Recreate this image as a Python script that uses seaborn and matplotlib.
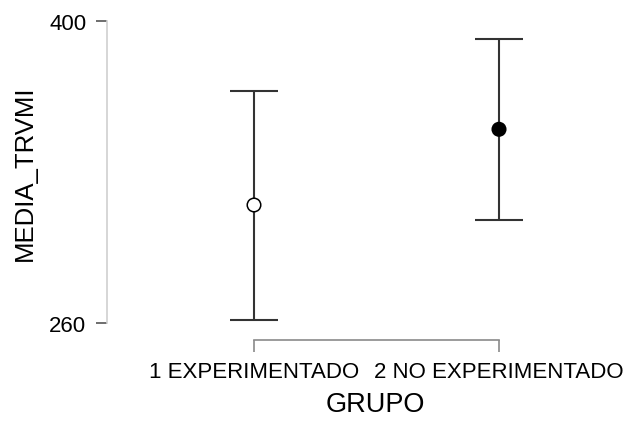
import matplotlib
matplotlib.use("Agg")
import matplotlib.pyplot as plt
import seaborn as sns
import pandas as pd

# Descriptive plot: group means with 95% CI
groups = ["1 EXPERIMENTADO", "2 NO EXPERIMENTADO"]
means = [314.7, 349.8]
ci_lower = [261.5, 307.7]
ci_upper = [367.4, 391.8]
y_ticks = [260, 400]

sns.set_style("white")
plt.rcParams["font.family"] = ["Liberation Sans", "DejaVu Sans"]

df = pd.DataFrame({"GRUPO": groups, "MEDIA_TRVMI": means,
                   "lo": ci_lower, "hi": ci_upper})

W, H = 630, 427
fig = plt.figure(figsize=(W / 100, H / 100), dpi=100)
left_px, top_px, bottom_px = 107, 22, 324
x_lo, x_hi = -0.6, 1.5
unit_px = 245
ax = fig.add_axes([left_px / W, (H - bottom_px) / H,
                   (x_hi - x_lo) * unit_px / W, (bottom_px - top_px) / H])

pos = list(range(len(groups)))
yerr = [[m - l for m, l in zip(df["MEDIA_TRVMI"], df["lo"])],
        [h - m for m, h in zip(df["MEDIA_TRVMI"], df["hi"])]]
ax.errorbar(pos, df["MEDIA_TRVMI"], yerr=yerr, fmt="none",
            ecolor="#333333", elinewidth=1.5, capsize=17, capthick=1.5, zorder=2)

sns.scatterplot(x=pos, y=df["MEDIA_TRVMI"], hue=df["GRUPO"],
                palette=["white", "black"], edgecolor="black", linewidth=1.1,
                s=95, legend=False, ax=ax, zorder=3)

ax.set_xlim(x_lo, x_hi)
ax.set_ylim(y_ticks[0], y_ticks[-1])
ax.set_xticks(pos)
ax.set_xticklabels(groups)
ax.set_yticks(y_ticks)

sns.despine(ax=ax)
ax.spines["left"].set_bounds(y_ticks[0], y_ticks[-1])
ax.spines["left"].set_color("#d0d0d0")
ax.spines["left"].set_linewidth(1.2)
ax.spines["bottom"].set_position(("outward", 12))
ax.spines["bottom"].set_bounds(pos[0], pos[-1])
ax.spines["bottom"].set_color("#8a8a8a")
ax.spines["bottom"].set_linewidth(1.2)

ax.tick_params(axis="y", direction="out", length=8, width=1.2, color="#555555",
               pad=7, labelsize=16, labelcolor="black", left=True)
ax.tick_params(axis="x", direction="out", length=8.5, width=1.2, color="#8a8a8a",
               pad=7, labelsize=16, labelcolor="black", bottom=True)

ax.set_ylabel("MEDIA_TRVMI", fontsize=18.5, color="black")
ax.set_xlabel("GRUPO", fontsize=19.5, color="black")
ax.yaxis.set_label_coords(-0.136, 0.5)
ax.xaxis.set_label_coords(0.521, -0.225)

fig.savefig("out.png", dpi=100)
